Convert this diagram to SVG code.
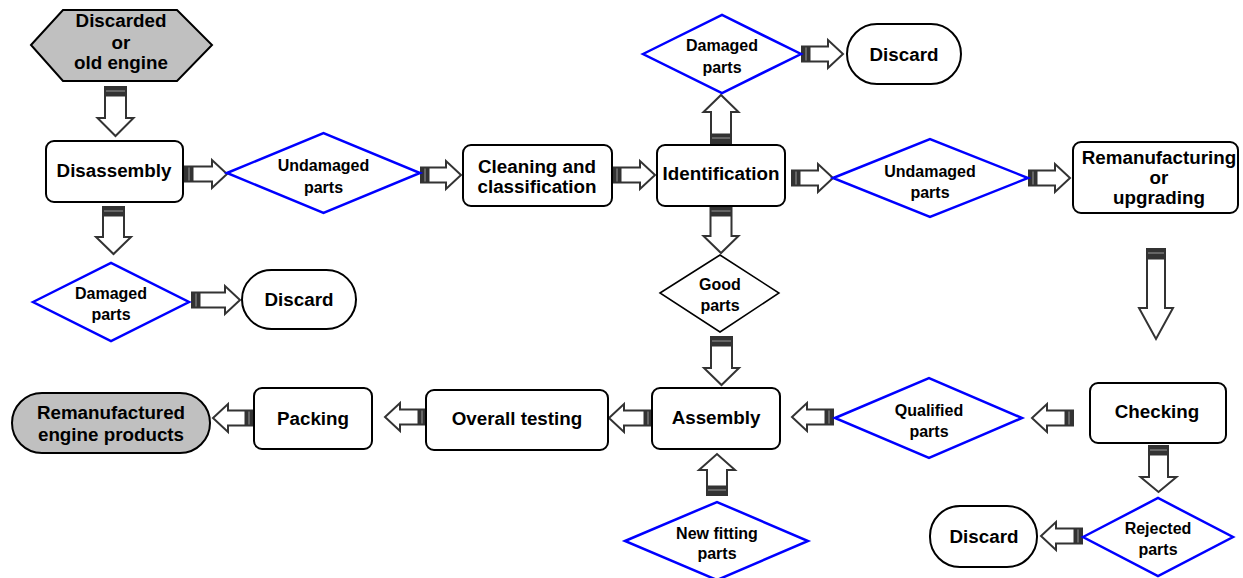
<svg xmlns="http://www.w3.org/2000/svg" width="1243" height="578" viewBox="0 0 1243 578">
<style>
  .box{fill:#fff;stroke:#000;stroke-width:2}
  .grey{fill:#c0c0c0;stroke:#000;stroke-width:2}
  .dia{fill:#fff;stroke:#0000ff;stroke-width:2.5}
  .diab{fill:#fff;stroke:#000;stroke-width:1.5}
  .t{font-family:"Liberation Sans",Arial,sans-serif;font-weight:bold;font-size:18.8px;fill:#000;text-anchor:middle;dominant-baseline:central}
  .s{font-family:"Liberation Sans",Arial,sans-serif;font-weight:bold;font-size:16px;fill:#000;text-anchor:middle;dominant-baseline:central}
  .arr{fill:#fff;stroke:#333;stroke-width:2;stroke-linejoin:miter}
  .tail{fill:#333;stroke:#333;stroke-width:1}
  .stripe{stroke:#999;stroke-width:1}
</style>
<g id="connectors">
  <path class="arr" d="M105,87 H126 V118 H133.5 L115.5,136 L97.5,118 H105 Z"/><rect class="tail" x="105" y="87" width="21" height="9"/><line class="stripe" x1="106" y1="91" x2="125" y2="91"/>
  <path class="arr" d="M103,207 H124 V237 H131 L113.5,254 L96,237 H103 Z"/><rect class="tail" x="103" y="207" width="21" height="9"/><line class="stripe" x1="104" y1="211" x2="123" y2="211"/>
  <path class="arr" d="M710.5,207 H731.5 V236 H738.5 L721,253 L703.5,236 H710.5 Z"/><rect class="tail" x="710.5" y="207" width="21" height="9"/><line class="stripe" x1="711.5" y1="211" x2="730.5" y2="211"/>
  <path class="arr" d="M711,337 H732 V368 H739 L721.5,385 L704,368 H711 Z"/><rect class="tail" x="711" y="337" width="21" height="9"/><line class="stripe" x1="712" y1="341" x2="731" y2="341"/>
  <path class="arr" d="M1147,249 H1165 V308 H1173 L1156,339 L1139,308 H1147 Z"/><rect class="tail" x="1147" y="249" width="18" height="10"/><line class="stripe" x1="1148" y1="253" x2="1164" y2="253"/>
  <path class="arr" d="M1149,446 H1168 V477 H1176.5 L1158.5,492 L1140.5,477 H1149 Z"/><rect class="tail" x="1149" y="446" width="19" height="9"/><line class="stripe" x1="1150" y1="450" x2="1167" y2="450"/>
  <path class="arr" d="M711,143 H731 V112 H738.5 L721,95 L703.5,112 H711 Z"/><rect class="tail" x="711" y="134" width="20" height="9"/><line class="stripe" x1="712" y1="138" x2="730" y2="138"/>
  <path class="arr" d="M707,495 H727 V470 H735 L717,454 L699,470 H707 Z"/><rect class="tail" x="707" y="486" width="20" height="9"/><line class="stripe" x1="708" y1="490" x2="726" y2="490"/>
  <path class="arr" d="M185,166.5 H212 V160 L227,174 L212,188 V181.5 H185 Z"/><rect class="tail" x="185" y="166.5" width="8" height="15"/><line class="stripe" x1="189" y1="167.5" x2="189" y2="180.5"/>
  <path class="arr" d="M192,292.5 H225 V286 L240,300 L225,314 V307.5 H192 Z"/><rect class="tail" x="192" y="292.5" width="8" height="15"/><line class="stripe" x1="196" y1="293.5" x2="196" y2="306.5"/>
  <path class="arr" d="M421,167.5 H446 V161 L461,175 L446,189 V182.5 H421 Z"/><rect class="tail" x="421" y="167.5" width="8" height="15"/><line class="stripe" x1="425" y1="168.5" x2="425" y2="181.5"/>
  <path class="arr" d="M613,167.5 H640 V161 L655,175 L640,189 V182.5 H613 Z"/><rect class="tail" x="613" y="167.5" width="8" height="15"/><line class="stripe" x1="617" y1="168.5" x2="617" y2="181.5"/>
  <path class="arr" d="M802,46.5 H828 V40 L843,54 L828,68 V61.5 H802 Z"/><rect class="tail" x="802" y="46.5" width="8" height="15"/><line class="stripe" x1="806" y1="47.5" x2="806" y2="60.5"/>
  <path class="arr" d="M792,170.5 H818 V164 L833,178 L818,192 V185.5 H792 Z"/><rect class="tail" x="792" y="170.5" width="8" height="15"/><line class="stripe" x1="796" y1="171.5" x2="796" y2="184.5"/>
  <path class="arr" d="M1029,170.5 H1055 V164 L1070,178 L1055,192 V185.5 H1029 Z"/><rect class="tail" x="1029" y="170.5" width="8" height="15"/><line class="stripe" x1="1033" y1="171.5" x2="1033" y2="184.5"/>
  <path class="arr" d="M1073,410.5 H1047 V404 L1032,418 L1047,432 V425.5 H1073 Z"/><rect class="tail" x="1065" y="410.5" width="8" height="15"/><line class="stripe" x1="1069" y1="411.5" x2="1069" y2="424.5"/>
  <path class="arr" d="M833,409.5 H807 V403 L792,417 L807,431 V424.5 H833 Z"/><rect class="tail" x="825" y="409.5" width="8" height="15"/><line class="stripe" x1="829" y1="410.5" x2="829" y2="423.5"/>
  <path class="arr" d="M1082,528.5 H1056 V522 L1041,536 L1056,550 V543.5 H1082 Z"/><rect class="tail" x="1074" y="528.5" width="8" height="15"/><line class="stripe" x1="1078" y1="529.5" x2="1078" y2="542.5"/>
  <path class="arr" d="M652,410.5 H624 V404 L609,418 L624,432 V425.5 H652 Z"/><rect class="tail" x="644" y="410.5" width="8" height="15"/><line class="stripe" x1="648" y1="411.5" x2="648" y2="424.5"/>
  <path class="arr" d="M426,409.5 H400 V403 L385,417 L400,431 V424.5 H426 Z"/><rect class="tail" x="418" y="409.5" width="8" height="15"/><line class="stripe" x1="422" y1="410.5" x2="422" y2="423.5"/>
  <path class="arr" d="M253,410.5 H228 V404 L213,418 L228,432 V425.5 H253 Z"/><rect class="tail" x="245" y="410.5" width="8" height="15"/><line class="stripe" x1="249" y1="411.5" x2="249" y2="424.5"/>
</g>
<g id="old-engine"><polygon class="grey" points="31,45 63,10 177,10 212,45 177,81 63,81"/><text class="t" x="121" y="20">Discarded</text><text class="t" x="121" y="42">or</text><text class="t" x="121" y="62">old engine</text></g>
<g id="disassembly"><rect class="box" x="46" y="141" width="137" height="61" rx="8"/><text class="t" x="114" y="170">Disassembly</text></g>
<g id="damaged-left"><polygon class="dia" points="33,302 111,263 189,302 111,341"/><text class="s" x="111" y="293">Damaged</text><text class="s" x="111" y="314">parts</text></g>
<g id="discard-left"><rect class="box" x="242" y="270" width="114" height="59" rx="29.5"/><text class="t" x="299" y="299">Discard</text></g>
<g id="undamaged-left"><polygon class="dia" points="227,173 323.5,133 420,173 323.5,213"/><text class="s" x="323.5" y="165">Undamaged</text><text class="s" x="323.5" y="187">parts</text></g>
<g id="cleaning"><rect class="box" x="463" y="145" width="149" height="61" rx="8"/><text class="t" x="537" y="166">Cleaning and</text><text class="t" x="537" y="186">classification</text></g>
<g id="identification"><rect class="box" x="657" y="145" width="128" height="61" rx="8"/><text class="t" x="721" y="173">Identification</text></g>
<g id="damaged-top"><polygon class="dia" points="643,54 722,15 801,54 722,93"/><text class="s" x="722" y="45">Damaged</text><text class="s" x="722" y="67">parts</text></g>
<g id="discard-top"><rect class="box" x="847" y="24" width="114" height="60" rx="30"/><text class="t" x="904" y="54">Discard</text></g>
<g id="undamaged-right"><polygon class="dia" points="833,178 930,139 1028,178 930,217"/><text class="s" x="930" y="171">Undamaged</text><text class="s" x="930" y="192">parts</text></g>
<g id="remanufacturing"><rect class="box" x="1073" y="142" width="165" height="71" rx="8"/><text class="t" x="1159" y="157">Remanufacturing</text><text class="t" x="1159" y="177">or</text><text class="t" x="1159" y="197">upgrading</text></g>
<g id="checking"><rect class="box" x="1090" y="383" width="136" height="60" rx="8"/><text class="t" x="1157" y="411">Checking</text></g>
<g id="qualified"><polygon class="dia" points="835,418 929,378 1022,418 929,458"/><text class="s" x="929" y="410">Qualified</text><text class="s" x="929" y="431">parts</text></g>
<g id="rejected"><polygon class="dia" points="1083,537 1158,498 1233,537 1158,576"/><text class="s" x="1158" y="528">Rejected</text><text class="s" x="1158" y="549">parts</text></g>
<g id="discard-bottom"><rect class="box" x="930" y="506" width="107" height="61" rx="30"/><text class="t" x="984" y="536">Discard</text></g>
<g id="good"><polygon class="diab" points="660,293 720,255 779,293 720,332"/><text class="s" x="720" y="284">Good</text><text class="s" x="720" y="305">parts</text></g>
<g id="assembly"><rect class="box" x="652" y="388" width="128" height="61" rx="8"/><text class="t" x="716" y="417">Assembly</text></g>
<g id="new-fitting"><polygon class="dia" points="625,541 717,502 808,541 717,580"/><text class="s" x="717" y="533">New fitting</text><text class="s" x="717" y="553">parts</text></g>
<g id="overall-testing"><rect class="box" x="426" y="390" width="182" height="60" rx="8"/><text class="t" x="517" y="418">Overall testing</text></g>
<g id="packing"><rect class="box" x="254" y="388" width="118" height="61" rx="8"/><text class="t" x="313" y="418">Packing</text></g>
<g id="products"><rect class="grey" x="12" y="393" width="198" height="60" rx="30"/><text class="t" x="111" y="412">Remanufactured</text><text class="t" x="111" y="434">engine products</text></g>
</svg>
